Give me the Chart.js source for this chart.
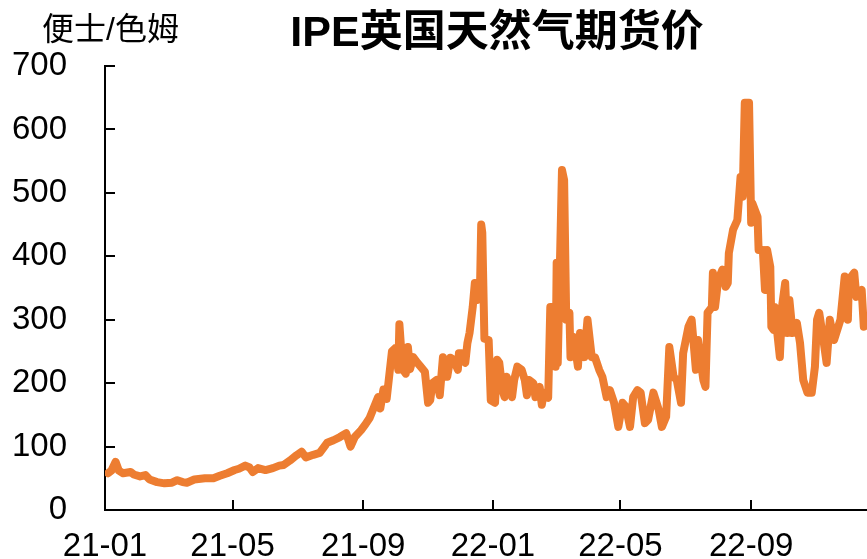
<!DOCTYPE html>
<html>
<head>
<meta charset="utf-8">
<script src="https://cdn.jsdelivr.net/npm/chart.js@4"></script>
<style>
  html, body { margin: 0; padding: 0; background: #fff; }
  #wrap { width: 867px; height: 559px; }
</style>
</head>
<body>
<div id="wrap"><canvas id="gasChart" width="867" height="559"></canvas></div>
<script>
// IPE UK natural gas futures, pence/therm
var dates = [
  '2021-01-04','2021-01-07','2021-01-11','2021-01-14','2021-01-18','2021-01-25','2021-01-28','2021-02-03','2021-02-08','2021-02-12',
  '2021-02-19','2021-02-26','2021-03-05','2021-03-10','2021-03-15','2021-03-19','2021-03-26','2021-04-05','2021-04-13','2021-04-19',
  '2021-04-26','2021-05-03','2021-05-07','2021-05-13','2021-05-17','2021-05-20','2021-05-25','2021-06-01','2021-06-08','2021-06-14',
  '2021-06-18','2021-06-24','2021-06-30','2021-07-05','2021-07-09','2021-07-16','2021-07-22','2021-07-29','2021-08-04','2021-08-10',
  '2021-08-16','2021-08-20','2021-08-24','2021-08-30','2021-09-03','2021-09-07','2021-09-13','2021-09-15','2021-09-17','2021-09-20',
  '2021-09-23','2021-09-28','2021-10-01','2021-10-04','2021-10-05','2021-10-08','2021-10-11','2021-10-13','2021-10-15','2021-10-18',
  '2021-10-22','2021-10-25','2021-10-29','2021-11-01','2021-11-03','2021-11-05','2021-11-09','2021-11-12','2021-11-15','2021-11-19',
  '2021-11-22','2021-11-25','2021-11-29','2021-11-30','2021-12-03','2021-12-06','2021-12-08','2021-12-10','2021-12-13','2021-12-15',
  '2021-12-17','2021-12-20','2021-12-21','2021-12-22','2021-12-24','2021-12-28','2021-12-30','2022-01-03','2022-01-05','2022-01-07',
  '2022-01-10','2022-01-12','2022-01-14','2022-01-19','2022-01-21','2022-01-24','2022-01-28','2022-01-31','2022-02-02','2022-02-04',
  '2022-02-08','2022-02-10','2022-02-14','2022-02-16','2022-02-18','2022-02-22','2022-02-24','2022-02-28','2022-03-01','2022-03-02',
  '2022-03-03','2022-03-07','2022-03-09','2022-03-11','2022-03-14','2022-03-15','2022-03-18','2022-03-22','2022-03-24','2022-03-28',
  '2022-03-31','2022-04-04','2022-04-07','2022-04-11','2022-04-14','2022-04-18','2022-04-21','2022-04-25','2022-04-29','2022-05-03',
  '2022-05-06','2022-05-10','2022-05-13','2022-05-17','2022-05-20','2022-05-24','2022-05-27','2022-06-01','2022-06-06','2022-06-09',
  '2022-06-13','2022-06-16','2022-06-20','2022-06-23','2022-06-27','2022-06-29','2022-07-04','2022-07-07','2022-07-11','2022-07-13',
  '2022-07-18','2022-07-20','2022-07-22','2022-07-26','2022-07-27','2022-07-29','2022-08-01','2022-08-05','2022-08-08','2022-08-10',
  '2022-08-11','2022-08-15','2022-08-19','2022-08-22','2022-08-24','2022-08-26','2022-08-30','2022-09-01','2022-09-02','2022-09-07',
  '2022-09-08','2022-09-12','2022-09-14','2022-09-16','2022-09-19','2022-09-20','2022-09-22','2022-09-23','2022-09-28','2022-09-30',
  '2022-10-03','2022-10-05','2022-10-07','2022-10-10','2022-10-14','2022-10-17','2022-10-20','2022-10-24','2022-10-28','2022-10-31',
  '2022-11-02','2022-11-04','2022-11-08','2022-11-11','2022-11-14','2022-11-18','2022-11-24','2022-11-28','2022-12-01','2022-12-02',
  '2022-12-07','2022-12-09','2022-12-14','2022-12-16'
];
var prices = [
  58, 62, 76, 62, 58, 60, 56, 53, 55, 48,
  44, 42, 43, 47, 44, 43, 48, 50, 50, 54,
  58, 63, 65, 70, 67, 60, 66, 63, 66, 70,
  71, 78, 86, 92, 83, 87, 90, 106, 110, 115,
  121, 100, 115, 126, 135, 145, 170, 178, 160, 190,
  175, 250, 255, 221, 293, 222, 215, 257, 222, 241,
  232, 226, 218, 169, 173, 200, 205, 181, 241, 210,
  240, 237, 221, 247, 247, 232, 263, 279, 320, 358,
  331, 363, 450, 437, 270, 268, 173, 169, 237, 232,
  189, 178, 210, 178, 205, 226, 221, 205, 181, 205,
  200, 178, 194, 166, 185, 177, 320, 320, 226, 390,
  232, 536, 520, 300, 311, 241, 273, 226, 279, 241,
  300, 241, 241, 221, 210, 178, 189, 169, 131, 169,
  163, 131, 178, 189, 185, 137, 142, 185, 158, 131,
  147, 257, 210, 205, 169, 247, 289, 300, 221, 268,
  205, 194, 311, 320, 374, 320, 363, 379, 352, 358,
  405, 442, 457, 525, 494, 642, 642, 453, 484, 462,
  410, 410, 347, 410, 383, 289, 284, 320, 241, 320,
  358, 279, 331, 279, 295, 263, 205, 185, 185, 226,
  300, 311, 268, 232, 300, 268, 300, 368, 300, 363,
  374, 336, 347, 289
];
var tickDates = ['2021-01-01','2021-05-01','2021-09-01','2022-01-01','2022-05-01','2022-09-01'];
var tickLabels = ['21-01','21-05','21-09','22-01','22-05','22-09'];
var endDate = '2022-12-19';

var chartTitle = 'IPE英国天然气期货价';
var unitLabel = '便士/色姆';

var startMs = Date.parse('2021-01-01');
function dayNum(d) {
    return (Date.parse(d) - startMs) / 86400000;
}

var points = [];
for (var i = 0; i < dates.length; i++) {
    points.push({ x: dayNum(dates[i]), y: prices[i] });
}
var tickDays = tickDates.map(dayNum);

var tickFont = '"Liberation Sans", Arial, sans-serif';

// tick marks point inward, and the two header texts
var extras = {
    id: 'extras',
    afterDraw: function (chart) {
        var ctx = chart.ctx;
        var area = chart.chartArea;
        var xs = chart.scales.x, ys = chart.scales.y;
        ctx.save();
        ctx.strokeStyle = '#000';
        ctx.lineWidth = 2;
        ctx.beginPath();
        ys.ticks.forEach(function (t) {
            var py = Math.round(ys.getPixelForValue(t.value));
            ctx.moveTo(area.left, py);
            ctx.lineTo(area.left + 10, py);
        });
        xs.ticks.forEach(function (t) {
            var px = Math.round(xs.getPixelForValue(t.value));
            ctx.moveTo(px, area.bottom);
            ctx.lineTo(px, area.bottom - 10);
        });
        ctx.stroke();

        ctx.fillStyle = '#000';
        ctx.textBaseline = 'middle';
        ctx.textAlign = 'center';
        ctx.font = 'bold 43px "Liberation Sans", "Noto Sans CJK SC", sans-serif';
        ctx.fillText(chartTitle, 497, 34);
        ctx.textAlign = 'left';
        ctx.font = '32px "Liberation Sans", "Noto Sans CJK SC", sans-serif';
        ctx.fillText(unitLabel, 42, 31);
        ctx.restore();
    }
};

var ctx = document.getElementById('gasChart').getContext('2d');
var gasChart = new Chart(ctx, {
    type: 'line',
    data: {
        datasets: [{
            label: 'IPE',
            data: points,
            borderColor: 'rgb(237, 125, 49)',
            borderWidth: 8,
            borderJoinStyle: 'round',
            borderCapStyle: 'round',
            pointRadius: 0,
            tension: 0,
            fill: false
        }]
    },
    options: {
        responsive: false,
        animation: false,
        layout: {
            padding: { top: 66, right: 0, left: 0, bottom: 0 }
        },
        plugins: {
            legend: { display: false },
            tooltip: { enabled: false }
        },
        scales: {
            x: {
                type: 'linear',
                min: 0,
                max: dayNum(endDate),
                afterBuildTicks: function (scale) {
                    scale.ticks = tickDays.map(function (v) { return { value: v }; });
                },
                afterFit: function (scale) {
                    scale.height = 49;
                },
                grid: { display: false, drawTicks: false },
                border: { display: true, color: '#000', width: 2 },
                ticks: {
                    autoSkip: false,
                    maxRotation: 0,
                    padding: 17,
                    color: '#000',
                    font: { family: tickFont, size: 33 },
                    callback: function (value, index) {
                        return tickLabels[index];
                    }
                }
            },
            y: {
                min: 0,
                max: 700,
                afterFit: function (scale) {
                    scale.width = 105;
                    scale.paddingTop = 0;
                    scale.paddingBottom = 0;
                },
                grid: { display: false, drawTicks: false },
                border: { display: true, color: '#000', width: 2 },
                ticks: {
                    stepSize: 100,
                    padding: 38,
                    color: '#000',
                    font: { family: tickFont, size: 33 }
                }
            }
        }
    },
    plugins: [extras]
});
</script>
</body>
</html>
